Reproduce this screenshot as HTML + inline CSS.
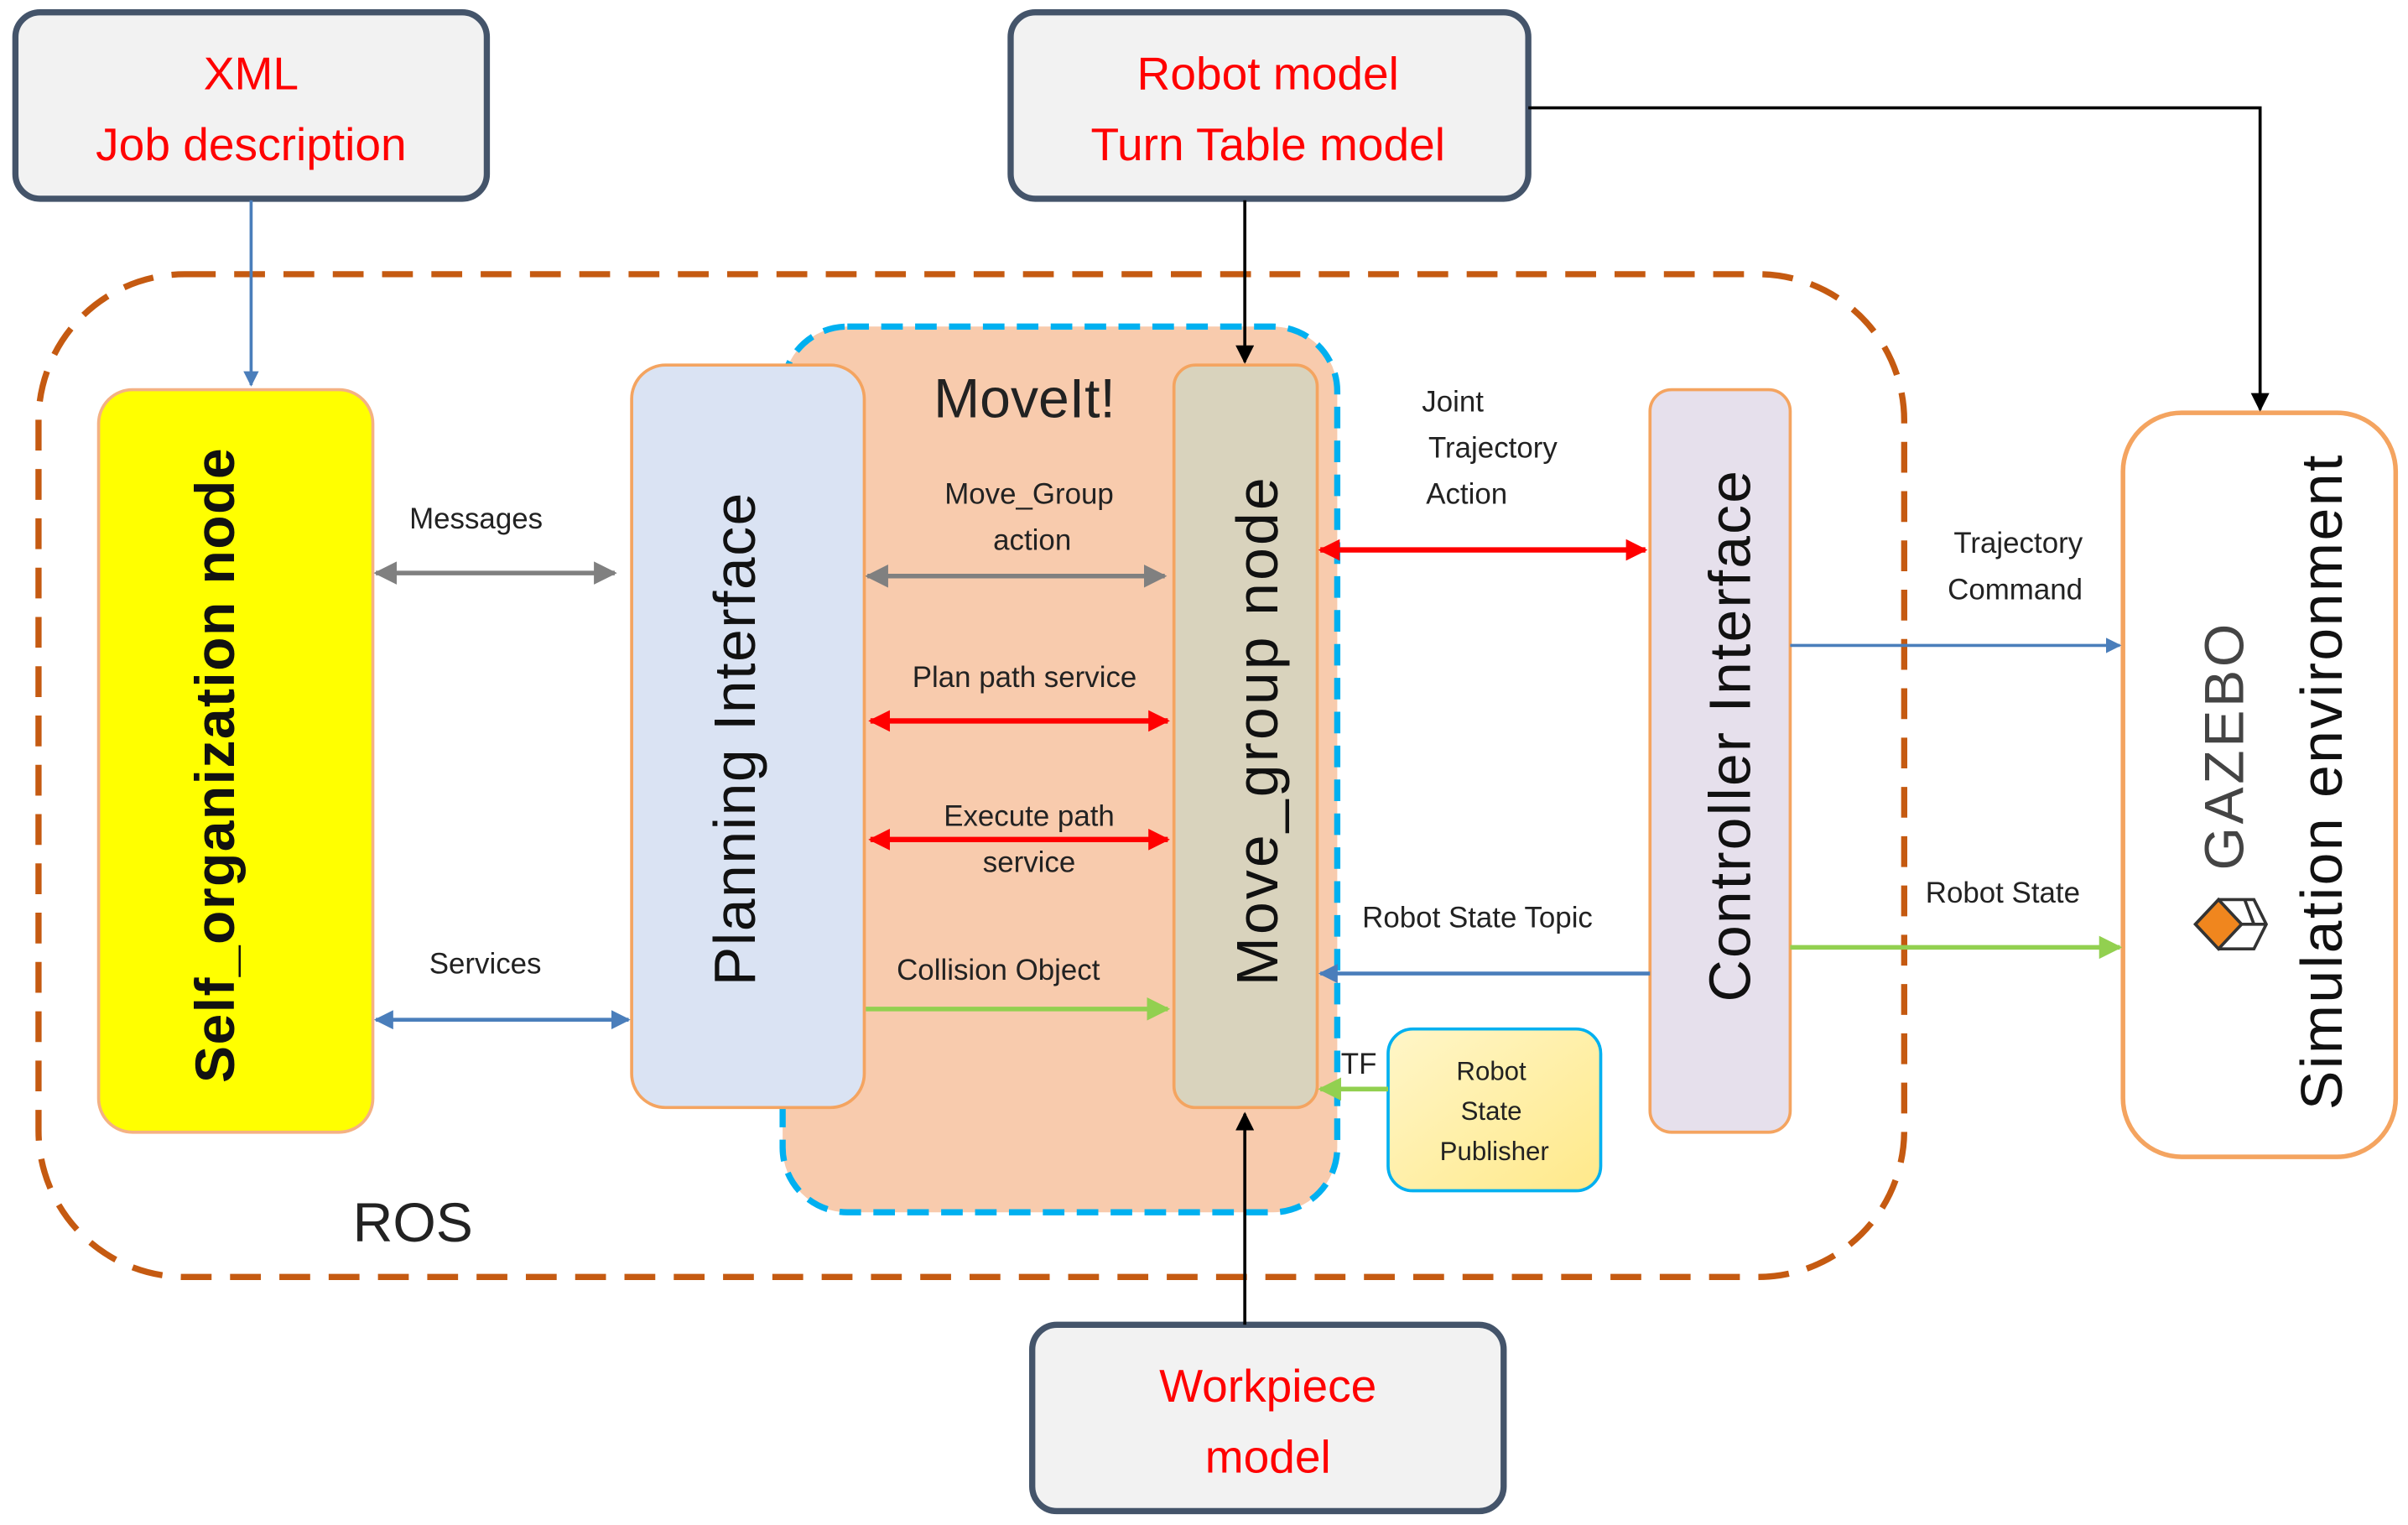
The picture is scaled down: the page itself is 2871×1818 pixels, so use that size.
<!DOCTYPE html>
<html><head><meta charset="utf-8"><style>html,body{margin:0;padding:0;background:#fff}svg{display:block}</style></head>
<body>
<svg width="2871" height="1818" viewBox="0 0 1563 990" preserveAspectRatio="none" xmlns="http://www.w3.org/2000/svg" font-family="Liberation Sans, sans-serif">
<defs>
<marker id="ab" viewBox="0 0 10 10" refX="9" refY="5" markerWidth="5" markerHeight="5" orient="auto-start-reverse"><path d="M0,0 L10,5 L0,10z" fill="#4a7ebb"/></marker>
<marker id="ag" viewBox="0 0 10 10" refX="9" refY="5" markerWidth="5" markerHeight="5" orient="auto-start-reverse"><path d="M0,0 L10,5 L0,10z" fill="#808080"/></marker>
<marker id="ar" viewBox="0 0 10 10" refX="9" refY="5" markerWidth="4" markerHeight="4" orient="auto-start-reverse"><path d="M0,0 L10,5 L0,10z" fill="#ff0000"/></marker>
<marker id="agr" viewBox="0 0 10 10" refX="9" refY="5" markerWidth="5" markerHeight="5" orient="auto-start-reverse"><path d="M0,0 L10,5 L0,10z" fill="#92d050"/></marker>
<marker id="ak" viewBox="0 0 10 10" refX="9" refY="5" markerWidth="6" markerHeight="6" orient="auto-start-reverse"><path d="M0,0 L10,5 L0,10z" fill="#000"/></marker>
<linearGradient id="ylg" x1="0" y1="0" x2="1" y2="1"><stop offset="0" stop-color="#fff6c8"/><stop offset="1" stop-color="#ffe98a"/></linearGradient>
</defs>
<rect x="25" y="178" width="1211" height="651" rx="95" fill="none" stroke="#c55a11" stroke-width="4" stroke-dasharray="20 12"/>
<rect x="508" y="212" width="360" height="575" rx="42" fill="#f8cbad" stroke="#00b0f0" stroke-width="4" stroke-dasharray="14 8"/>
<text x="665" y="271" font-size="36" text-anchor="middle" fill="#222">MoveIt!</text>
<text x="268" y="806" font-size="36" text-anchor="middle" fill="#222">ROS</text>
<rect x="10" y="8" width="306" height="121" rx="16" fill="#f2f2f2" stroke="#44546a" stroke-width="4"/>
<text x="163" y="58" font-size="30" text-anchor="middle" fill="#ff0000">XML</text>
<text x="163" y="104" font-size="30" text-anchor="middle" fill="#ff0000">Job description</text>
<rect x="656" y="8" width="336" height="121" rx="16" fill="#f2f2f2" stroke="#44546a" stroke-width="4"/>
<text x="823" y="58" font-size="30" text-anchor="middle" fill="#ff0000">Robot model</text>
<text x="823" y="104" font-size="30" text-anchor="middle" fill="#ff0000">Turn Table model</text>
<rect x="670" y="860" width="306" height="121" rx="16" fill="#f2f2f2" stroke="#44546a" stroke-width="4"/>
<text x="823" y="910" font-size="30" text-anchor="middle" fill="#ff0000">Workpiece</text>
<text x="823" y="956" font-size="30" text-anchor="middle" fill="#ff0000">model</text>
<rect x="64" y="253" width="178" height="482" rx="22" fill="#ffff00" stroke="#f4b183" stroke-width="2"/>
<text transform="translate(152,497) rotate(-90)" font-size="36" font-weight="bold" text-anchor="middle" fill="#111" textLength="412" lengthAdjust="spacing">Self_organization  node</text>
<rect x="410" y="237" width="151" height="482" rx="22" fill="#dae3f3" stroke="#f4a460" stroke-width="2"/>
<text transform="translate(490,480) rotate(-90)" font-size="38" text-anchor="middle" fill="#111" textLength="320" lengthAdjust="spacing">Planning  Interface</text>
<rect x="762" y="237" width="93" height="482" rx="14" fill="#d9d3bd" stroke="#f4a460" stroke-width="2"/>
<text transform="translate(829,475) rotate(-90)" font-size="38" text-anchor="middle" fill="#111" textLength="330" lengthAdjust="spacing">Move_group  node</text>
<rect x="1071" y="253" width="91" height="482" rx="14" fill="#e6e0ec" stroke="#f4a460" stroke-width="2"/>
<text transform="translate(1136,478) rotate(-90)" font-size="38" text-anchor="middle" fill="#111" textLength="345" lengthAdjust="spacing">Controller Interface</text>
<rect x="901" y="668" width="138" height="105" rx="16" fill="url(#ylg)" stroke="#00b0f0" stroke-width="2"/>
<text x="968" y="701" font-size="17" text-anchor="middle" fill="#222">Robot</text>
<text x="968" y="727" font-size="17" text-anchor="middle" fill="#222">State</text>
<text x="970" y="753" font-size="17" text-anchor="middle" fill="#222">Publisher</text>
<rect x="1378" y="268" width="177" height="483" rx="38" fill="#fff" stroke="#f4a460" stroke-width="3"/>
<text transform="translate(1520,508) rotate(-90)" font-size="38" text-anchor="middle" fill="#111" textLength="425" lengthAdjust="spacing">Simulation environment</text>
<text transform="translate(1456,485) rotate(-90)" font-size="36" text-anchor="middle" fill="#444" textLength="160" lengthAdjust="spacing">GAZEBO</text>
<g transform="translate(1443,600)">
<path d="M-18,0 L-3,-16 L12,0 L-3,16z" fill="#f0861e" stroke="#333" stroke-width="2"/>
<path d="M-3,16 L20,16 L28,0 L20,-16 L-3,-16" fill="none" stroke="#333" stroke-width="2"/>
<path d="M12,0 L28,0 M14,-16 L20,0" fill="none" stroke="#333" stroke-width="2"/>
</g>
<line x1="163" y1="130" x2="163" y2="250" stroke="#4a7ebb" stroke-width="2" marker-end="url(#ab)"/>
<line x1="808" y1="130" x2="808" y2="235" stroke="#000" stroke-width="2" marker-end="url(#ak)"/>
<polyline points="992,70 1467,70 1467,266" fill="none" stroke="#000" stroke-width="2" marker-end="url(#ak)"/>
<line x1="808" y1="860" x2="808" y2="723" stroke="#000" stroke-width="2" marker-end="url(#ak)"/>
<line x1="244" y1="372" x2="399" y2="372" stroke="#808080" stroke-width="3" marker-start="url(#ag)" marker-end="url(#ag)"/>
<line x1="244" y1="662" x2="408" y2="662" stroke="#4a7ebb" stroke-width="2.5" marker-start="url(#ab)" marker-end="url(#ab)"/>
<line x1="563" y1="374" x2="756" y2="374" stroke="#808080" stroke-width="3" marker-start="url(#ag)" marker-end="url(#ag)"/>
<line x1="565" y1="468" x2="758" y2="468" stroke="#ff0000" stroke-width="3.5" marker-start="url(#ar)" marker-end="url(#ar)"/>
<line x1="565" y1="545" x2="758" y2="545" stroke="#ff0000" stroke-width="3.5" marker-start="url(#ar)" marker-end="url(#ar)"/>
<line x1="562" y1="655" x2="758" y2="655" stroke="#92d050" stroke-width="3" marker-end="url(#agr)"/>
<line x1="857" y1="357" x2="1068" y2="357" stroke="#ff0000" stroke-width="3.5" marker-start="url(#ar)" marker-end="url(#ar)"/>
<line x1="1071" y1="632" x2="857" y2="632" stroke="#4a7ebb" stroke-width="2.5" marker-end="url(#ab)"/>
<line x1="901" y1="707" x2="857" y2="707" stroke="#92d050" stroke-width="3" marker-end="url(#agr)"/>
<line x1="1162" y1="419" x2="1376" y2="419" stroke="#4a7ebb" stroke-width="2" marker-end="url(#ab)"/>
<line x1="1162" y1="615" x2="1376" y2="615" stroke="#92d050" stroke-width="3" marker-end="url(#agr)"/>
<g font-size="19" fill="#222" text-anchor="middle">
<text x="309" y="343">Messages</text>
<text x="315" y="632">Services</text>
<text x="668" y="327">Move_Group</text>
<text x="670" y="357">action</text>
<text x="665" y="446">Plan path service</text>
<text x="668" y="536">Execute path</text>
<text x="668" y="566">service</text>
<text x="648" y="636">Collision Object</text>
<text x="943" y="267">Joint</text>
<text x="969" y="297">Trajectory</text>
<text x="952" y="327">Action</text>
<text x="959" y="602">Robot State Topic</text>
<text x="882" y="697">TF</text>
<text x="1310" y="359">Trajectory</text>
<text x="1308" y="389">Command</text>
<text x="1300" y="586">Robot State</text>
</g>
</svg>
</body></html>
